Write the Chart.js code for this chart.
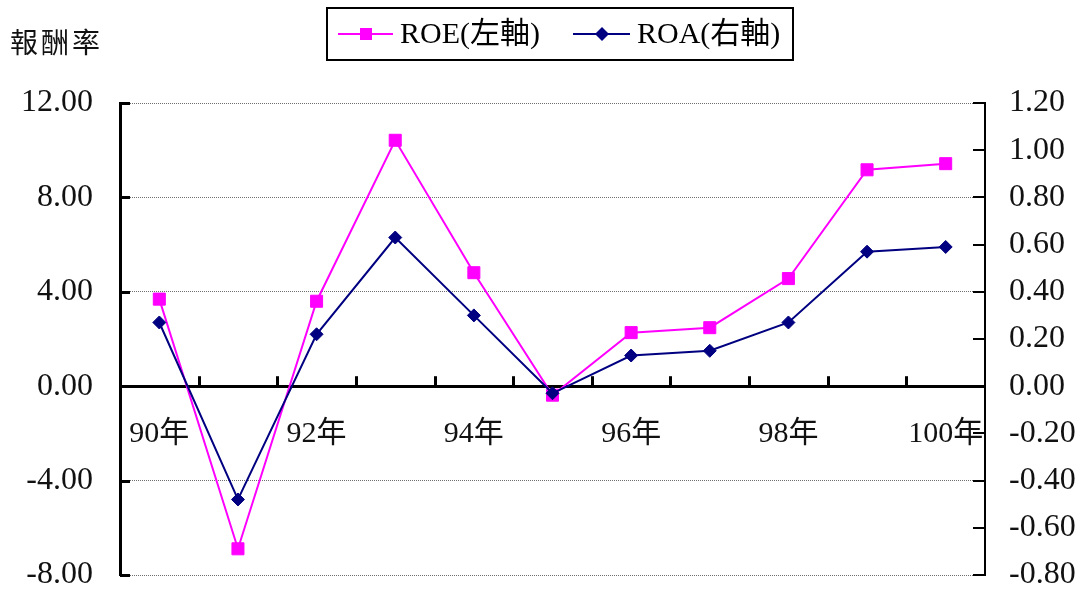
<!DOCTYPE html>
<html>
<head>
<meta charset="utf-8">
<script src="https://cdn.jsdelivr.net/npm/chart.js@4.4.1/dist/chart.umd.min.js"></script>
<style>
  html, body { margin: 0; padding: 0; background: #fff; }
  #wrap { width: 1081px; height: 594px; }
</style>
</head>
<body>
<div id="wrap"><canvas id="c" width="1081" height="594"></canvas></div>
<script>
// Yearly return series (ROE on the left axis, ROA on the right axis)
const years = ['90年', '91年', '92年', '93年', '94年', '95年', '96年', '97年', '98年', '99年', '100年'];
const roeValues = [3.69, -6.89, 3.60, 10.42, 4.81, -0.38, 2.27, 2.48, 4.56, 9.17, 9.43];
const roaValues = [0.27, -0.48, 0.22, 0.63, 0.30, -0.03, 0.13, 0.15, 0.27, 0.57, 0.59];
const leftTicks = [-8, -4, 0, 4, 8, 12];
const rightTicks = [-0.8, -0.6, -0.4, -0.2, 0, 0.2, 0.4, 0.6, 0.8, 1.0, 1.2];
const seriesNames = ['ROE(左軸)', 'ROA(右軸)'];
const axisTitle = '報酬率';

const ROE_COLOR = '#ff00ff';
const ROA_COLOR = '#000080';
const NUM_FONT = '"Liberation Serif", "Noto Sans CJK TC", serif';
const CJK_FONT = '"Noto Sans CJK TC", sans-serif';

function fmt(v) { return (Math.abs(v) < 1e-9 ? 0 : v).toFixed(2); }

// y axes keep a fixed width and do not reserve extra room above/below the plot
function fixAxis(width) {
  return s => { s.width = width; s.paddingTop = 0; s.paddingBottom = 0; };
}

// Title, framed legend and inward-pointing tick marks
const decorations = {
  id: 'decorations',
  afterDraw(chart) {
    const { ctx, chartArea: a, scales } = chart;
    const yL = scales.y, yR = scales.y1, x = scales.x;
    ctx.save();

    // y-axis caption
    ctx.fillStyle = '#111';
    ctx.font = '28px ' + CJK_FONT;
    ctx.letterSpacing = '3px';
    ctx.textBaseline = 'middle';
    ctx.textAlign = 'left';
    ctx.fillText(axisTitle, 10, 42);
    ctx.letterSpacing = '0px';

    // left axis ticks (pointing into the plot)
    ctx.strokeStyle = '#000';
    ctx.lineWidth = 3;
    leftTicks.forEach(v => {
      const py = Math.round(yL.getPixelForValue(v)) + 0.5;
      ctx.beginPath(); ctx.moveTo(a.left, py); ctx.lineTo(a.left + 10, py); ctx.stroke();
    });
    // right axis ticks
    ctx.lineWidth = 2;
    rightTicks.forEach(v => {
      const py = Math.round(yR.getPixelForValue(v));
      ctx.beginPath(); ctx.moveTo(a.right - 12, py); ctx.lineTo(a.right, py); ctx.stroke();
    });
    // category boundary ticks on the zero line, pointing up
    const y0 = yL.getPixelForValue(0);
    ctx.lineWidth = 3;
    for (let i = 1; i < years.length; i++) {
      const bx = Math.round((x.getPixelForValue(i - 1) + x.getPixelForValue(i)) / 2) + 0.5;
      ctx.beginPath(); ctx.moveTo(bx, y0); ctx.lineTo(bx, y0 - 10); ctx.stroke();
    }

    // legend frame and entries
    ctx.lineWidth = 2;
    ctx.strokeStyle = '#000';
    ctx.strokeRect(327, 8, 466, 52);
    const ly = 34;
    ctx.font = '30px ' + NUM_FONT;
    ctx.textBaseline = 'middle';

    ctx.strokeStyle = ROE_COLOR; ctx.fillStyle = ROE_COLOR;
    ctx.beginPath(); ctx.moveTo(338, ly); ctx.lineTo(393, ly); ctx.stroke();
    ctx.fillRect(366 - 6, ly - 6, 12, 12);
    ctx.fillStyle = '#000';
    ctx.fillText(seriesNames[0], 400, ly + 1);

    ctx.strokeStyle = ROA_COLOR; ctx.fillStyle = ROA_COLOR;
    ctx.beginPath(); ctx.moveTo(573, ly); ctx.lineTo(630, ly); ctx.stroke();
    ctx.beginPath();
    ctx.moveTo(602, ly - 7); ctx.lineTo(609, ly); ctx.lineTo(602, ly + 7); ctx.lineTo(595, ly);
    ctx.closePath(); ctx.fill();
    ctx.fillStyle = '#000';
    ctx.fillText(seriesNames[1], 637, ly + 1);

    ctx.restore();
  }
};

new Chart(document.getElementById('c'), {
  type: 'line',
  data: {
    labels: years,
    datasets: [
      {
        label: seriesNames[1],
        data: roaValues,
        yAxisID: 'y1',
        borderColor: ROA_COLOR,
        backgroundColor: ROA_COLOR,
        borderWidth: 2,
        pointStyle: 'rectRot',
        pointRadius: 6.5,
        pointBorderWidth: 1,
        tension: 0,
        order: 0
      },
      {
        label: seriesNames[0],
        data: roeValues,
        yAxisID: 'y',
        borderColor: ROE_COLOR,
        backgroundColor: ROE_COLOR,
        borderWidth: 2,
        pointStyle: 'rect',
        pointRadius: 8.5,
        pointBorderWidth: 1,
        tension: 0,
        order: 1
      }
    ]
  },
  options: {
    responsive: false,
    animation: false,
    events: [],
    layout: { padding: { left: 0, right: 0, top: 103, bottom: 19 } },
    plugins: { legend: { display: false }, tooltip: { enabled: false } },
    scales: {
      x: {
        type: 'category',
        position: { y: 0 },
        offset: true,
        afterFit(s) { s.height = 0; },
        grid: { display: true, drawOnChartArea: false, drawTicks: false },
        border: { display: true, color: '#000', width: 3 },
        ticks: {
          autoSkip: false,
          maxRotation: 0,
          padding: 30,
          color: '#111',
          font: { family: NUM_FONT, size: 30 },
          callback(v, i) { return i % 2 === 0 ? years[i] : ''; }
        }
      },
      y: {
        position: 'left',
        min: -8,
        max: 12,
        afterBuildTicks(s) { s.ticks = leftTicks.map(v => ({ value: v })); },
        afterFit: fixAxis(120),
        grid: {
          drawTicks: false,
          lineWidth: 1,
          color: c => (c.tick && c.tick.value === 0 ? 'rgba(0,0,0,0)' : '#6e6e6e')
        },
        border: { display: true, color: '#000', width: 3, dash: [1, 1] },
        ticks: {
          padding: 27,
          color: '#111',
          font: { family: NUM_FONT, size: 32 },
          callback: v => fmt(v)
        }
      },
      y1: {
        position: 'right',
        min: -0.8,
        max: 1.2,
        afterBuildTicks(s) { s.ticks = rightTicks.map(v => ({ value: v })); },
        afterFit: fixAxis(96),
        grid: { drawOnChartArea: false, drawTicks: false },
        border: { display: true, color: '#000', width: 2 },
        ticks: {
          padding: 24,
          color: '#111',
          font: { family: NUM_FONT, size: 32 },
          callback: v => fmt(v)
        }
      }
    }
  },
  plugins: [decorations]
});
</script>
</body>
</html>
